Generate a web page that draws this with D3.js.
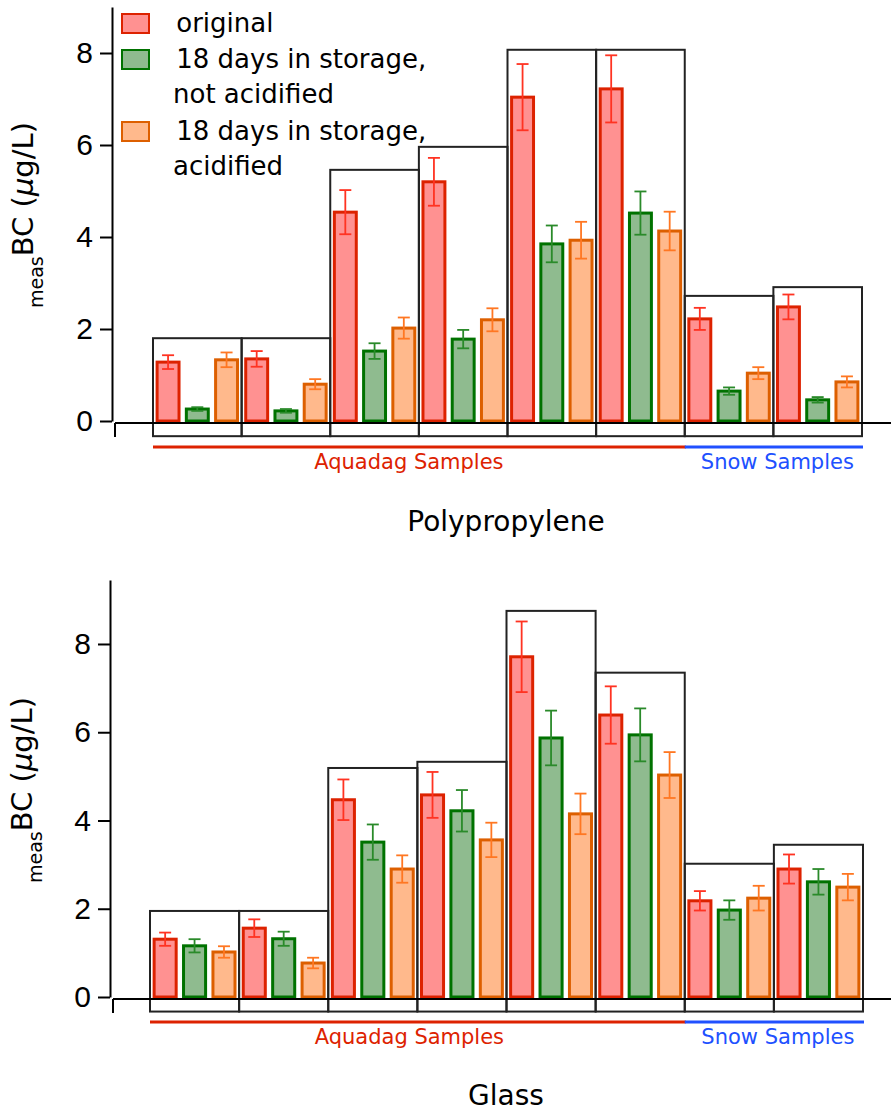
<html>
<head>
<meta charset="utf-8">
<script src="https://d3js.org/d3.v7.min.js"></script>
<style>
  body { margin: 0; background: white; }
  text { font-family: "Liberation Sans", Arial, sans-serif; }
</style>
</head>
<body>
<svg id="chart" width="891" height="1111"></svg>
<script>
// sample groups (left to right) and which set they belong to
var samples = ["Aquadag 1", "Aquadag 2", "Aquadag 3", "Aquadag 4", "Aquadag 5", "Aquadag 6", "Snow 1", "Snow 2"];
var series = ["original", "18 days in storage, not acidified", "18 days in storage, acidified"];
var legendLines = [[" original"], [" 18 days in storage,", "not acidified"], [" 18 days in storage,", "acidified"]];
var setNames = ["Aquadag Samples", "Snow Samples"];
var setFirst = [0, 6];
var setLast = [5, 7];
var yTicks = [0, 2, 4, 6, 8];

// Polypropylene bottles
var ppOriginal = [1.28, 1.35, 4.54, 5.20, 7.04, 7.22, 2.22, 2.48];
var ppOriginalErr = [0.15, 0.17, 0.48, 0.52, 0.72, 0.73, 0.24, 0.27];
var ppNotAcid = [0.26, 0.22, 1.52, 1.78, 3.85, 4.52, 0.65, 0.46];
var ppNotAcidErr = [0.04, 0.04, 0.17, 0.20, 0.40, 0.47, 0.08, 0.06];
var ppAcid = [1.33, 0.80, 2.02, 2.20, 3.93, 4.13, 1.04, 0.85];
var ppAcidErr = [0.16, 0.11, 0.23, 0.25, 0.40, 0.42, 0.13, 0.12];
var ppBoxTop = [1.80, 1.80, 5.46, 5.96, 8.07, 8.07, 2.72, 2.91];

// Glass bottles
var glassOriginal = [1.31, 1.56, 4.47, 4.58, 7.71, 6.39, 2.18, 2.90];
var glassOriginalErr = [0.15, 0.20, 0.46, 0.52, 0.80, 0.65, 0.22, 0.33];
var glassNotAcid = [1.16, 1.32, 3.51, 4.22, 5.87, 5.94, 1.97, 2.61];
var glassNotAcidErr = [0.15, 0.16, 0.40, 0.47, 0.62, 0.60, 0.22, 0.29];
var glassAcid = [1.02, 0.77, 2.90, 3.56, 4.15, 5.03, 2.24, 2.49];
var glassAcidErr = [0.13, 0.12, 0.31, 0.39, 0.46, 0.52, 0.28, 0.30];
var glassBoxTop = [1.95, 1.95, 5.19, 5.33, 8.75, 7.35, 3.02, 3.45];

var fills = ["#ff9191", "#8fbb8f", "#ffb98c"];
var strokes = ["#dd2200", "#007200", "#dd5f00"];
var errColors = ["#ff3322", "#2a8a2a", "#ff7722"];
var setColors = ["#dd2200", "#2050ff"];

var svg = d3.select("#chart");

function drawPanel(p) {
	var g = svg.append("g");
	var y = d3.scaleLinear().domain([0, p.yMax]).range([p.y0, p.yTop]);
	var x = d3.scaleBand().domain(samples).range([p.xLeft, p.xRight]).padding(0);
	var xs = d3.scaleBand().domain(series).range([0, x.bandwidth()]).paddingInner(0.25).paddingOuter(0.14);

	var vals = [p.orig, p.notAcid, p.acid];
	var errs = [p.origErr, p.notAcidErr, p.acidErr];

	// sample boxes
	g.selectAll("rect.box").data(samples).enter().append("rect")
		.attr("class", "box")
		.attr("x", function(d){ return x(d); })
		.attr("y", function(d, i){ return y(p.boxTop[i]); })
		.attr("width", x.bandwidth())
		.attr("height", function(d, i){ return y(-0.33) - y(p.boxTop[i]); })
		.style("fill", "none").style("stroke", "#222").style("stroke-width", 2);

	// bars
	series.forEach(function(s, k){
		var sg = g.append("g");
		sg.selectAll("rect").data(samples).enter().append("rect")
			.attr("x", function(d){ return x(d) + xs(s); })
			.attr("y", function(d, i){ return y(vals[k][i]); })
			.attr("width", xs.bandwidth())
			.attr("height", function(d, i){ return y(0) - y(vals[k][i]); })
			.style("fill", fills[k]).style("stroke", strokes[k]).style("stroke-width", 3);
	});

	// error bars
	series.forEach(function(s, k){
		var eg = g.append("g").style("stroke", errColors[k]).style("stroke-width", 1.8);
		samples.forEach(function(d, i){
			var cx = x(d) + xs(s) + xs.bandwidth() / 2;
			var hi = y(vals[k][i] + errs[k][i]), lo = y(vals[k][i] - errs[k][i]);
			eg.append("line").attr("x1", cx).attr("x2", cx).attr("y1", hi).attr("y2", lo);
			eg.append("line").attr("x1", cx - 6).attr("x2", cx + 6).attr("y1", hi).attr("y2", hi);
			eg.append("line").attr("x1", cx - 6).attr("x2", cx + 6).attr("y1", lo).attr("y2", lo);
		});
	});

	// y axis
	var yAxis = d3.axisLeft(y).tickValues(yTicks).tickFormat(d3.format("d")).tickSize(12).tickSizeOuter(0).tickPadding(7);
	var ya = g.append("g").attr("transform", "translate(" + p.axisX + ",0)").call(yAxis)
		.attr("font-size", 30).attr("font-family", "Liberation Sans");
	ya.select(".domain").style("stroke", "#000").style("stroke-width", 2);
	ya.selectAll(".tick line").style("stroke", "#000").style("stroke-width", 2);
	ya.selectAll(".tick text").style("font-size", "30px").style("font-family", "'Liberation Sans'").attr("fill", "#000");

	// x axis line with its small end tick
	g.append("line").attr("x1", p.axisX + 3).attr("x2", 891).attr("y1", y(0) + 2).attr("y2", y(0) + 2)
		.style("stroke", "#000").style("stroke-width", 2);
	g.append("line").attr("x1", p.axisX + 3).attr("x2", p.axisX + 3).attr("y1", y(0) + 2).attr("y2", y(0) + 16)
		.style("stroke", "#000").style("stroke-width", 2);

	// y label, "meas" as a leading subscript
	var lab = g.append("text").attr("transform", "translate(" + p.labelX + "," + p.labelY + ") rotate(-90)")
		.attr("text-anchor", "middle").style("font-family", "'DejaVu Sans'").style("font-size", "29px");
	lab.append("tspan").text("meas").style("font-size", "19px");
	lab.append("tspan").text("BC (").attr("dy", -10);
	lab.append("tspan").text("\u00b5").style("font-style", "italic");
	lab.append("tspan").text("g/L)");

	// sample set underlines and labels
	setNames.forEach(function(name, j){
		var x1 = x(samples[setFirst[j]]), x2 = x(samples[setLast[j]]) + x.bandwidth();
		g.append("line").attr("x1", x1).attr("x2", x2 + 1).attr("y1", p.setLineY).attr("y2", p.setLineY)
			.style("stroke", setColors[j]).style("stroke-width", 3);
		g.append("text").attr("x", (x1 + x2) / 2 + p.setTextShift[j]).attr("y", p.setLineY + 22)
			.attr("text-anchor", "middle").style("font-family", "'DejaVu Sans'")
			.style("font-size", "21px").attr("fill", setColors[j]).text(name);
	});

	// panel title
	g.append("text").attr("x", 506).attr("y", p.titleY).attr("text-anchor", "middle")
		.style("font-family", "'DejaVu Sans'").style("font-size", "28px").attr("fill", "#000").text(p.title);
}

drawPanel({
	y0: 421, yTop: 7, yMax: 9, xLeft: 153, xRight: 862, axisX: 112,
	orig: ppOriginal, origErr: ppOriginalErr, notAcid: ppNotAcid, notAcidErr: ppNotAcidErr,
	acid: ppAcid, acidErr: ppAcidErr, boxTop: ppBoxTop,
	labelX: 43, labelY: 215, setLineY: 447, setTextShift: [-10, 4], titleY: 531, title: "Polypropylene"
});

drawPanel({
	y0: 997, yTop: 580, yMax: 9.45, xLeft: 150, xRight: 863, axisX: 110,
	orig: glassOriginal, origErr: glassOriginalErr, notAcid: glassNotAcid, notAcidErr: glassNotAcidErr,
	acid: glassAcid, acidErr: glassAcidErr, boxTop: glassBoxTop,
	labelX: 42, labelY: 790, setLineY: 1022, setTextShift: [-8, 4], titleY: 1105, title: "Glass"
});

// legend (top panel)
var leg = svg.append("g");
var legRowY = [14, 50, 122];
series.forEach(function(s, k){
	leg.append("rect").attr("x", 122).attr("y", legRowY[k]).attr("width", 27).attr("height", 19)
		.style("fill", fills[k]).style("stroke", strokes[k]).style("stroke-width", 2);
	legendLines[k].forEach(function(line, m){
		leg.append("text").attr("x", m === 0 ? 168 : 173).attr("y", legRowY[k] + 18 + m * 35)
			.style("font-family", "'DejaVu Sans'").style("font-size", "26px")
			.style("white-space", "pre").attr("xml:space", "preserve").attr("fill", "#000").text(line);
	});
});
</script>
</body>
</html>
